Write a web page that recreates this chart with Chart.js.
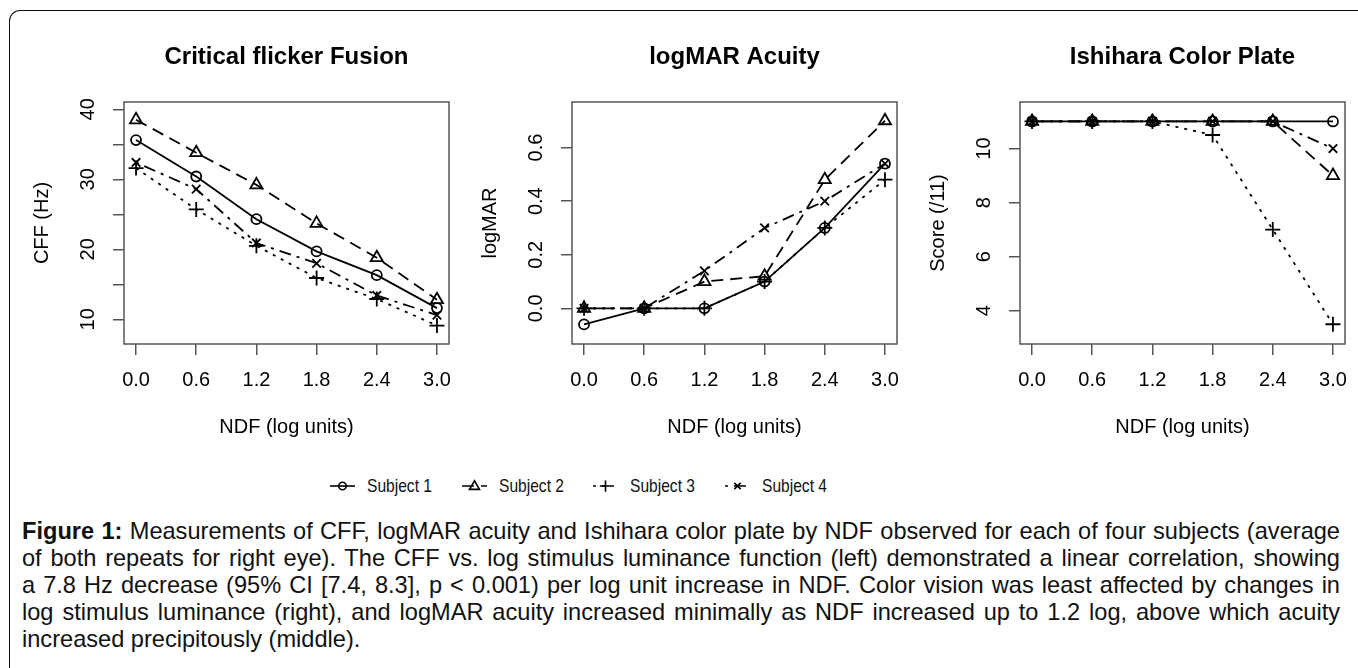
<!DOCTYPE html>
<html>
<head>
<meta charset="utf-8">
<script src="https://cdn.jsdelivr.net/npm/chart.js@4.4.1/dist/chart.umd.min.js"></script>
<style>
html, body { margin:0; padding:0; background:#fff; width:1358px; height:668px; overflow:hidden; }
#frame { position:absolute; left:9px; top:10px; width:1400px; height:700px;
  border-left:1.5px solid #111; border-top:1.5px solid #111; border-top-left-radius:11px; }
.panel { position:absolute; top:0; }
#legend { position:absolute; left:0; top:475px; width:1358px; height:22px;
  font-family:'Liberation Sans', Arial, sans-serif; font-size:19px; color:#111; }
.lg-item { position:absolute; top:0; height:22px; }
.lg-item canvas { position:absolute; left:0; top:0; }
.lg-item span { position:absolute; top:0; line-height:22px; white-space:nowrap;
  transform:scaleX(0.82); transform-origin:0 0; }
#caption { position:absolute; left:22px; top:518px; width:1318px;
  font-family:'Liberation Sans', Arial, sans-serif; font-size:23.6px; line-height:27px; color:#111; }
#caption div { height:27px; text-align:justify; text-align-last:justify; white-space:nowrap; }
#caption div.last { text-align-last:left; }
</style>
</head>
<body>
<div id="frame"></div>
<canvas id="c1" class="panel" width="480" height="450" style="left:0px"></canvas>
<canvas id="c2" class="panel" width="480" height="450" style="left:448px"></canvas>
<canvas id="c3" class="panel" width="480" height="450" style="left:896px"></canvas>
<div id="legend"></div>
<div id="caption">
<div><b>Figure 1:</b> Measurements of CFF, logMAR acuity and Ishihara color plate by NDF observed for each of four subjects (average</div>
<div>of both repeats for right eye). The CFF vs. log stimulus luminance function (left) demonstrated a linear correlation, showing</div>
<div>a 7.8 Hz decrease (95% CI [7.4, 8.3], p &lt; 0.001) per log unit increase in NDF. Color vision was least affected by changes in</div>
<div>log stimulus luminance (right), and logMAR acuity increased minimally as NDF increased up to 1.2 log, above which acuity</div>
<div class="last">increased precipitously (middle).</div>
</div>
<script>
// данные
const ndf = [0.0, 0.6, 1.2, 1.8, 2.4, 3.0];
const subjects = ['Subject 1', 'Subject 2', 'Subject 3', 'Subject 4'];

const cffS1 = [35.6, 30.4, 24.3, 19.7, 16.3, 11.6];
const cffS2 = [38.5, 33.8, 29.2, 23.7, 18.8, 12.8];
const cffS3 = [31.6, 25.7, 20.5, 15.9, 12.9, 9.1];
const cffS4 = [32.4, 28.6, 20.9, 18.0, 13.4, 10.6];

const marS1 = [-0.06, 0.0, 0.0, 0.1, 0.3, 0.54];
const marS2 = [0.0, 0.0, 0.1, 0.12, 0.48, 0.7];
const marS3 = [0.0, 0.0, 0.0, 0.1, 0.3, 0.48];
const marS4 = [0.0, 0.0, 0.14, 0.3, 0.4, 0.54];

const ishS1 = [11, 11, 11, 11, 11, 11];
const ishS2 = [11, 11, 11, 11, 11, 9];
const ishS3 = [11, 11, 11, 10.5, 7, 3.5];
const ishS4 = [11, 11, 11, 11, 11, 10];

const xTicks = [0.0, 0.6, 1.2, 1.8, 2.4, 3.0];
const cffTicks = [10, 15, 20, 25, 30, 35, 40];
const marTicks = [0.0, 0.2, 0.4, 0.6];
const ishTicks = [4, 6, 8, 10];

// стили линий как в R: lty 1..4, pch 1..4
const dashes = [[], [12, 7], [3, 6], [3, 6, 12, 6]];
const marks = ['circle', 'triangle', 'cross', 'crossRot'];
const markSize = [5, 7, 7.5, 6];

const FONT = "'Liberation Sans', Arial, sans-serif";
Chart.defaults.font.family = FONT;
Chart.defaults.color = '#000';

const boxPlugin = {
  id: 'box',
  afterDraw(chart) {
    const a = chart.chartArea;
    const ctx = chart.ctx;
    ctx.save();
    ctx.strokeStyle = '#555';
    ctx.lineWidth = 1.5;
    ctx.strokeRect(a.left, a.top, a.right - a.left, a.bottom - a.top);
    ctx.restore();
  }
};

const measureCtx = document.createElement('canvas').getContext('2d');
measureCtx.font = '20px ' + FONT;

function makePanel(id, title, yTitle, series, yMin, yMax, yTicks, yLabel) {
  let widest = 0;
  yTicks.forEach((v) => {
    widest = Math.max(widest, measureCtx.measureText(yLabel(v)).width);
  });
  // центр подписи ~35.5px левее рамки
  const yPad = 35.5 - 11 - widest / 2;

  const datasets = series.map((s, i) => ({
    label: subjects[i],
    data: ndf.map((x, k) => ({ x: x, y: s[k] })),
    borderColor: '#000',
    borderWidth: 1.8,
    borderDash: dashes[i],
    pointStyle: marks[i],
    pointRadius: markSize[i],
    pointBorderColor: '#000',
    pointBorderWidth: 1.8,
    pointBackgroundColor: 'rgba(0,0,0,0)',
    tension: 0,
    clip: false
  }));

  return new Chart(document.getElementById(id).getContext('2d'), {
    type: 'line',
    data: { datasets: datasets },
    options: {
      responsive: false,
      animation: false,
      devicePixelRatio: 1,
      layout: { padding: { left: 0, right: 31, top: 0, bottom: 0 } },
      plugins: {
        legend: { display: false },
        tooltip: { enabled: false },
        title: {
          display: true, text: title, color: '#000', fullSize: false,
          font: { size: 24, weight: 'bold', lineHeight: 1.2 },
          padding: { top: 43, bottom: 30.2 }
        }
      },
      scales: {
        x: {
          type: 'linear', min: -0.12, max: 3.12,
          afterBuildTicks: (sc) => { sc.ticks = xTicks.map((v) => ({ value: v })); },
          afterFit: (sc) => { sc.height = 106; },
          grid: { drawOnChartArea: false, drawTicks: true, tickLength: 11, color: '#555', lineWidth: 1.5 },
          border: { display: false },
          ticks: { autoSkip: false, maxRotation: 0, padding: 13, font: { size: 20 }, color: '#000',
                   callback: (v) => Number(v).toFixed(1) },
          title: { display: true, text: 'NDF (log units)', font: { size: 20 }, color: '#000',
                   padding: { top: 0, bottom: 11 } }
        },
        y: {
          type: 'linear', min: yMin, max: yMax,
          afterBuildTicks: (sc) => { sc.ticks = yTicks.map((v) => ({ value: v })); },
          afterFit: (sc) => { sc.width = 124; },
          grid: { drawOnChartArea: false, drawTicks: true, tickLength: 11, color: '#555', lineWidth: 1.5 },
          border: { display: false },
          ticks: { autoSkip: false, minRotation: 90, maxRotation: 90, crossAlign: 'center',
                   padding: yPad, font: { size: 20 }, color: '#000',
                   callback: (v) => yLabel(v) },
          title: { display: true, text: yTitle, font: { size: 20 }, color: '#000',
                   padding: { top: 30, bottom: 0 } }
        }
      }
    },
    plugins: [boxPlugin]
  });
}

makePanel('c1', 'Critical flicker Fusion', 'CFF (Hz)', [cffS1, cffS2, cffS3, cffS4],
  6.47, 41.04, cffTicks, (v) => (v % 10 === 0 ? String(v) : ''));
makePanel('c2', 'logMAR Acuity', 'logMAR', [marS1, marS2, marS3, marS4],
  -0.133, 0.77, marTicks, (v) => Number(v).toFixed(1));
makePanel('c3', 'Ishihara Color Plate', 'Score (/11)', [ishS1, ishS2, ishS3, ishS4],
  2.77, 11.72, ishTicks, (v) => String(v));

// легенда внизу
function drawMark(ctx, style, x, y, r) {
  ctx.beginPath();
  if (style === 'circle') {
    ctx.arc(x, y, r, 0, Math.PI * 2);
  } else if (style === 'triangle') {
    ctx.moveTo(x, y - r);
    ctx.lineTo(x + r * 0.95, y + r * 0.65);
    ctx.lineTo(x - r * 0.95, y + r * 0.65);
    ctx.closePath();
  } else if (style === 'cross') {
    ctx.moveTo(x - r, y); ctx.lineTo(x + r, y);
    ctx.moveTo(x, y - r); ctx.lineTo(x, y + r);
  } else {
    const d = r * 0.7;
    ctx.moveTo(x - d, y - d); ctx.lineTo(x + d, y + d);
    ctx.moveTo(x + d, y - d); ctx.lineTo(x - d, y + d);
  }
  ctx.stroke();
}

const legend = document.getElementById('legend');
const lgStart = 330;
const lgStep = 131.7;
subjects.forEach((name, i) => {
  const item = document.createElement('div');
  item.className = 'lg-item';
  item.style.left = (lgStart + i * lgStep) + 'px';
  const cv = document.createElement('canvas');
  cv.width = 28; cv.height = 22;
  const ctx = cv.getContext('2d');
  ctx.strokeStyle = '#000';
  ctx.lineWidth = 1.6;
  ctx.setLineDash(dashes[i]);
  ctx.beginPath(); ctx.moveTo(0, 11); ctx.lineTo(25, 11); ctx.stroke();
  ctx.setLineDash([]);
  drawMark(ctx, marks[i], 12.5, 11, markSize[i] * 0.75);
  item.appendChild(cv);
  const sp = document.createElement('span');
  sp.style.left = '37px';
  sp.textContent = name;
  item.appendChild(sp);
  legend.appendChild(item);
});
</script>
</body>
</html>
